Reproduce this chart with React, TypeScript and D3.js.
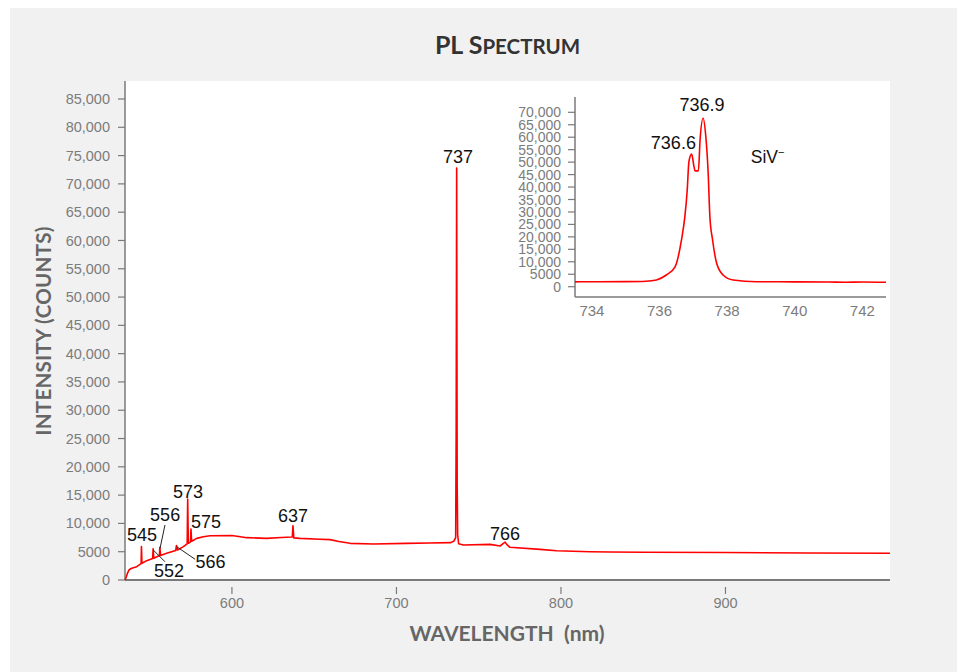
import { useRef, useEffect } from 'react';
import * as d3 from 'd3';

// main spectrum (nm, counts)
const mainWavelength = [
  535.0, 535.6, 536.5, 537.5, 539.1, 542.1, 544.8, 545.0, 545.3, 548.2, 551.8, 552.1, 552.5,
  555.3, 555.9, 556.2, 556.6, 560.3, 565.8, 566.3, 566.9, 570.5, 572.8, 573.1, 573.5, 574.8,
  575.1, 575.5, 578.6, 582.6, 586.7, 600.0, 609.0, 621.0, 630.0, 636.7, 637.1, 637.6, 641.4,
  653.5, 659.6, 665.0, 671.8, 686.0, 706.0, 720.0, 733.0, 735.0, 736.0, 736.3, 736.6, 736.9,
  737.2, 737.8, 740.7, 756.9, 763.0, 765.2, 766.0, 767.0, 769.0, 787.3, 797.4, 817.7, 830.0,
  850.0, 900.0, 950.0, 1000.0,
];
const mainIntensity = [
  0, 400, 1200, 1800, 2070, 2350, 2900, 5900, 2950, 3420, 3800, 5500, 3850,
  4240, 4300, 5800, 4350, 4710, 5200, 6100, 5300, 5890, 6400, 14300, 6500, 6700,
  9000, 6850, 7360, 7650, 7830, 7850, 7480, 7360, 7500, 7600, 9600, 7450, 7360,
  7190, 7130, 6800, 6480, 6360, 6480, 6550, 6600, 6900, 7500, 26200, 72800, 17000,
  8000, 6400, 6180, 6300, 6010, 6500, 6700, 6300, 5780, 5420, 5180, 5000, 4950,
  4900, 4850, 4780, 4720,
];

// inset: SiV- doublet
const insetWavelength = [
  733.5, 734.0, 735.0, 735.6, 735.91, 736.2, 736.46, 736.65, 736.75, 736.82, 736.87, 736.95,
  737.02, 737.05, 737.15, 737.2, 737.29, 737.37, 737.44, 737.49, 737.57, 737.69, 737.88,
  738.18, 738.87, 740.0, 741.0, 741.5, 742.0, 742.7,
];
const insetIntensity = [
  1950, 2000, 2050, 2200, 2700, 4700, 8000, 18750, 28100, 38800, 50200, 53200,
  48200, 46500, 46500, 58900, 67600, 60200, 45500, 28100, 18750, 9400, 4700,
  2700, 2000, 1950, 1900, 1800, 1900, 1800,
];

const mainYTicks = d3.range(0, 85001, 5000);
const mainXTicks = [600, 700, 800, 900];
const insetYTicks = d3.range(0, 70001, 5000);
const insetXTicks = [734, 736, 738, 740, 742];

// peak labels: text, centre (nm, counts)
const peakText = ['545', '556', '573', '575', '637', '737', '766', '552', '566'];
const peakLabelWl = [545.3, 559.4, 573.3, 584.2, 637.1, 737.4, 766.0, 561.7, 587.0];
const peakLabelV = [8000, 11600, 15650, 10300, 11400, 74900, 8300, 1660, 3260];
// leader lines (nm, counts) -> (nm, counts)
const leaders = [
  [559.3, 9720, 556.3, 5600],
  [552.2, 5300, 559.3, 3230],
  [566.4, 5890, 577.6, 3660],
];
const insetText = ['736.9', '736.6'];
const insetLabelWl = [737.26, 736.41];
const insetLabelV = [72970, 57830];

const W = 957, H = 672;
const fmt = (v: number) => (v >= 10000 ? d3.format(',')(v) : String(v));

export default function App() {
  const svgRef = useRef<SVGSVGElement>(null);

  useEffect(() => {
    const svg = d3.select(svgRef.current);
    svg.selectAll('*').remove();

    svg.append('rect').attr('x', 10).attr('y', 8).attr('width', W - 10).attr('height', H - 8).attr('fill', '#f1f1f1');

    const left = 125, right = 890, top = 81, bottom = 580;
    svg.append('rect').attr('x', left).attr('y', top).attr('width', right - left).attr('height', bottom - top).attr('fill', '#fff');

    const x = d3.scaleLinear().domain([535, 1000]).range([left, right]);
    const y = d3.scaleLinear().domain([0, 85000]).range([bottom, 99]);

    const axisCol = '#7a7a7a';
    const tickCol = '#7c7c7c';
    const sans = '"Liberation Sans", Arial, sans-serif';

    // title
    const title = svg.append('text').attr('x', (left + right) / 2).attr('y', 54)
      .attr('text-anchor', 'middle').attr('fill', '#333').attr('font-family', 'Lato, sans-serif')
      .attr('font-weight', 700);
    title.append('tspan').attr('font-size', 25).text('PL S');
    title.append('tspan').attr('font-size', 20.5).text('PECTRUM');

    // y axis
    const g = svg.append('g');
    g.append('line').attr('x1', left).attr('x2', left).attr('y1', top).attr('y2', bottom).attr('stroke', axisCol).attr('stroke-width', 1.5);
    mainYTicks.forEach((t) => {
      g.append('line').attr('x1', left - 7).attr('x2', left).attr('y1', y(t)).attr('y2', y(t)).attr('stroke', axisCol).attr('stroke-width', 1.2);
      g.append('text').attr('x', left - 15).attr('y', y(t)).attr('dy', '0.35em').attr('text-anchor', 'end')
        .attr('fill', tickCol).attr('font-size', 14.5).attr('font-family', sans).text(fmt(t));
    });
    // x axis
    g.append('line').attr('x1', left).attr('x2', right).attr('y1', bottom).attr('y2', bottom).attr('stroke', axisCol).attr('stroke-width', 2);
    mainXTicks.forEach((t) => {
      g.append('line').attr('x1', x(t)).attr('x2', x(t)).attr('y1', bottom + 7).attr('y2', bottom + 14).attr('stroke', axisCol).attr('stroke-width', 1.2);
      g.append('text').attr('x', x(t)).attr('y', 603).attr('dy', '0.35em').attr('text-anchor', 'middle')
        .attr('fill', tickCol).attr('font-size', 14.5).attr('font-family', sans).text(t);
    });

    // axis titles
    svg.append('text').attr('transform', `translate(51,${331}) rotate(-90)`).attr('text-anchor', 'middle')
      .attr('fill', '#666').attr('font-size', 20.5).attr('font-weight', 700).attr('font-family', 'Lato, sans-serif')
      .attr('letter-spacing', 0.3).text('INTENSITY (COUNTS)');
    svg.append('text').attr('x', 507).attr('y', 641).attr('text-anchor', 'middle').attr('xml:space', 'preserve')
      .attr('fill', '#666').attr('font-size', 21).attr('font-weight', 700).attr('font-family', 'Lato, sans-serif')
      .text('WAVELENGTH  (nm)');

    // main line
    const line = d3.line<number>().x((_, i) => x(mainWavelength[i])).y((d) => y(d));
    svg.append('path').attr('d', line(mainIntensity)).attr('fill', 'none').attr('stroke', '#ff0000')
      .attr('stroke-width', 1.6).attr('stroke-linejoin', 'round');

    // leaders
    leaders.forEach(([w1, v1, w2, v2]) => {
      svg.append('line').attr('x1', x(w1)).attr('y1', y(v1)).attr('x2', x(w2)).attr('y2', y(v2))
        .attr('stroke', '#222').attr('stroke-width', 1);
    });
    peakText.forEach((t, i) => {
      svg.append('text').attr('x', x(peakLabelWl[i])).attr('y', y(peakLabelV[i])).attr('dy', '0.36em')
        .attr('text-anchor', 'middle').attr('font-size', 18).attr('font-family', sans).attr('fill', '#111').text(t);
    });

    // inset
    const il = 575, ir = 886, it = 97, ib = 297;
    const ix = d3.scaleLinear().domain([733.5, 742.7]).range([il, ir]);
    const iy = d3.scaleLinear().domain([0, 70000]).range([286.7, 112.3]);
    const gi = svg.append('g');
    gi.append('line').attr('x1', il).attr('x2', il).attr('y1', it).attr('y2', ib).attr('stroke', axisCol).attr('stroke-width', 1.5);
    gi.append('line').attr('x1', il).attr('x2', ir).attr('y1', ib).attr('y2', ib).attr('stroke', axisCol).attr('stroke-width', 1.5);
    insetYTicks.forEach((t) => {
      gi.append('line').attr('x1', il - 7).attr('x2', il).attr('y1', iy(t)).attr('y2', iy(t)).attr('stroke', axisCol).attr('stroke-width', 1.2);
      gi.append('text').attr('x', il - 14).attr('y', iy(t)).attr('dy', '0.36em').attr('text-anchor', 'end')
        .attr('fill', tickCol).attr('font-size', 14).attr('font-family', sans).text(fmt(t));
    });
    insetXTicks.forEach((t) => {
      gi.append('text').attr('x', ix(t)).attr('y', 311).attr('dy', '0.35em').attr('text-anchor', 'middle')
        .attr('fill', tickCol).attr('font-size', 15).attr('font-family', sans).text(t);
    });
    const iline = d3.line<number>().x((_, i) => ix(insetWavelength[i])).y((d) => iy(d)).curve(d3.curveMonotoneX);
    gi.append('path').attr('d', iline(insetIntensity)).attr('fill', 'none').attr('stroke', '#ff0000')
      .attr('stroke-width', 1.6).attr('stroke-linejoin', 'round');
    insetText.forEach((t, i) => {
      gi.append('text').attr('x', ix(insetLabelWl[i])).attr('y', iy(insetLabelV[i])).attr('dy', '0.36em')
        .attr('text-anchor', 'middle').attr('font-size', 18).attr('font-family', sans).attr('fill', '#111').text(t);
    });
    const siv = gi.append('text').attr('x', ix(738.7)).attr('y', iy(52200)).attr('dy', '0.36em')
      .attr('font-size', 17.5).attr('font-family', sans).attr('fill', '#111');
    siv.append('tspan').text('SiV');
    siv.append('tspan').attr('font-size', 11).attr('dy', -7).text('−');
  }, []);

  return (
    <svg ref={svgRef} width={W} height={H} viewBox={`0 0 ${W} ${H}`}
      style={{ position: 'absolute', left: 0, top: 0, display: 'block', background: '#fff' }} />
  );
}
